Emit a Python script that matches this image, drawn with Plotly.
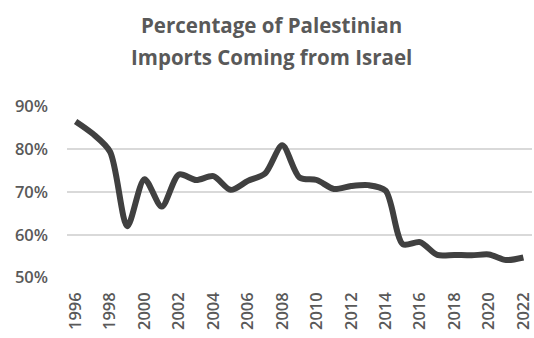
import plotly.graph_objects as go

years = list(range(1996, 2023))
share_pct = [86.5, 83.6, 79.4, 62.0, 73.0, 66.6, 74.1, 72.8, 73.7, 70.5,
             72.6, 74.3, 80.9, 73.4, 72.8, 70.7, 71.4, 71.6, 70.3, 57.8,
             58.3, 55.3, 55.3, 55.2, 55.4, 54.1, 54.7]
x_ticks = list(range(1996, 2023, 2))
y_ticks = [50, 60, 70, 80, 90]
y_labels = ["50%", "60%", "70%", "80%", "90%"]
title_lines = ["Percentage of Palestinian", "Imports Coming from Israel"]

fig = go.Figure()
fig.add_trace(go.Scatter(
    x=years, y=share_pct, mode="lines",
    line=dict(color="#404040", width=6, shape="spline", smoothing=0.8),
    hoverinfo="skip", showlegend=False,
))

for txt, ypos in zip(title_lines, [1.471, 1.285]):
    fig.add_annotation(text=f"<b>{txt}</b>", xref="paper", yref="paper",
                       x=0.439, y=ypos, xanchor="center", yanchor="middle",
                       showarrow=False,
                       font=dict(family="Open Sans", size=20.5, color="#595959"))

fig.update_layout(
    width=534, height=338,
    margin=dict(l=67, r=0, t=106, b=60),
    paper_bgcolor="white", plot_bgcolor="white",
    font=dict(family="Open Sans", color="#595959"),
    xaxis=dict(range=[1995.5, 2022.5], tickvals=x_ticks, ticktext=[str(v) for v in x_ticks],
               tickangle=-90, showgrid=False, zeroline=False, showline=False,
               ticklabeloverflow="allow", ticklabelstandoff=10,
               tickfont=dict(size=16.5, color="#595959", family="Open Sans", weight=600), ticks=""),
    yaxis=dict(range=[49.9, 90.1], tickvals=y_ticks, ticktext=y_labels,
               showgrid=True, gridcolor="#d9d9d9", gridwidth=1.5, zeroline=False,
               showline=False, ticks="", ticklabelstandoff=18,
               tickfont=dict(size=16.5, color="#595959", family="Open Sans", weight=600)),
)

fig.write_html("out.html", config={"displayModeBar": False},
               post_script="document.body.style.margin='0';document.body.style.overflow='hidden';")
